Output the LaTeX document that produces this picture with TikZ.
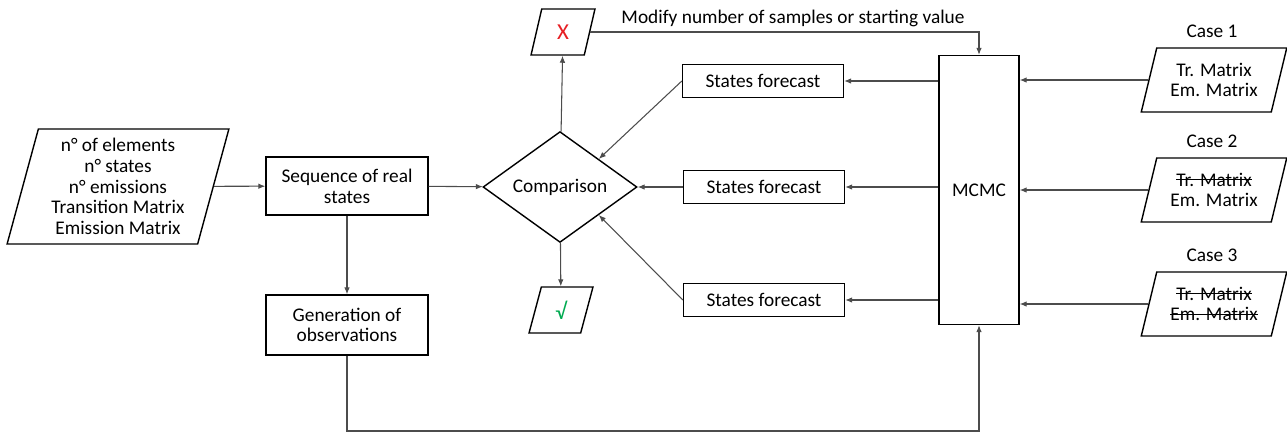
\documentclass[tikz,border=0pt]{standalone}
\usepackage{fontspec}
\setmainfont{Carlito}
\usetikzlibrary{shapes.geometric,arrows.meta}
\definecolor{xred}{RGB}{230,30,35}
\definecolor{okgreen}{RGB}{0,170,80}
\newsavebox\strkbox
\newcommand{\strk}[1]{\sbox\strkbox{#1}\rlap{\rule[0.3em]{\wd\strkbox}{0.55pt}}\usebox\strkbox}

\begin{document}
\begin{tikzpicture}[x=0.02cm,y=-0.02cm,
  every node/.style={font=\fontsize{11}{11.8}\selectfont},
  process/.style={draw,line width=0.8pt,align=center,inner sep=2pt},
  decision/.style={draw,line width=0.8pt,diamond,inner sep=0pt,
    minimum width=3.08cm,minimum height=1.76cm},
  io/.style={draw,line width=0.8pt,trapezium,trapezium stretches=true,
    align=center,inner sep=1pt},
  link/.style={draw=black!70,line width=0.6pt,-{Latex[length=4pt,width=3.2pt]}}
]
  \useasboundingbox (0,0) rectangle (1287,434);

  % data and process
  \node[io,trapezium left angle=75,trapezium right angle=105,
    minimum width=4.44cm,minimum height=2.3cm] (in) at (118,186.5)
    {n° of elements\\n° states\\n° emissions\\Transition Matrix\\Emission Matrix};
  \node[process,minimum width=3.24cm,minimum height=1.16cm] (seq) at (347,186)
    {Sequence of real\\states};
  \node[process,minimum width=3.24cm,minimum height=1.2cm] (gen) at (347,325)
    {Generation of\\observations};
  \node[decision] (cmp) at (560,187) {Comparison};
  \node[io,trapezium left angle=78,trapezium right angle=102,
    minimum width=1.28cm,minimum height=0.92cm] (xo) at (563,32)
    {\textcolor{xred}{\fontsize{13}{13}\selectfont X}};
  \node[io,trapezium left angle=78,trapezium right angle=102,
    minimum width=1.28cm,minimum height=0.92cm] (ok) at (561,310)
    {\textcolor{okgreen}{\fontsize{13}{13}\selectfont √}};
  \node (mod) at (793,18) {Modify number of samples or starting value};

  % forecasts and sampler
  \node[process,minimum width=3.22cm,minimum height=0.67cm] (sf1) at (763,81) {States forecast};
  \node[process,minimum width=3.22cm,minimum height=0.67cm] (sf2) at (764,187) {States forecast};
  \node[process,minimum width=3.22cm,minimum height=0.67cm] (sf3) at (764,300) {States forecast};
  \node[process,minimum width=1.6cm,minimum height=5.38cm] (mcmc) at (979,190) {MCMC};

  % the three cases
  \node (lc1) at (1212,31) {Case 1};
  \node (lc2) at (1212,141) {Case 2};
  \node (lc3) at (1212,255) {Case 3};
  \node[io,trapezium left angle=72,trapezium right angle=108,
    minimum width=2.92cm,minimum height=1.28cm] (c1) at (1214,80)
    {Tr. Matrix\\Em. Matrix};
  \node[io,trapezium left angle=72,trapezium right angle=108,
    minimum width=2.92cm,minimum height=1.28cm] (c2) at (1214,190)
    {\strk{Tr. Matrix}\\Em. Matrix};
  \node[io,trapezium left angle=72,trapezium right angle=108,
    minimum width=2.92cm,minimum height=1.28cm] (c3) at (1214,304)
    {\strk{Tr. Matrix}\\\strk{Em. Matrix}};

  \coordinate (low) at (347,431);

  \draw[link] (in) -- (seq);
  \draw[link] (seq) -- (cmp);
  \draw[link] (seq) -- (gen);
  \draw[link] (cmp) -- (xo);
  \draw[link] (cmp) -- (ok);
  \draw[link] (xo.east) -| (mcmc.north);
  \draw[link] (gen.south) -- (low) -| (mcmc.south);
  \draw[link] (sf1 -| mcmc.west) -- (sf1.east);
  \draw[link] (sf2 -| mcmc.west) -- (sf2.east);
  \draw[link] (sf3 -| mcmc.west) -- (sf3.east);
  \draw[link] (sf1.west) -- (cmp.north east);
  \draw[link] (sf2) -- (cmp);
  \draw[link] (sf3.west) -- (cmp.south east);
  \draw[link] (c1.west) -- (c1.west -| mcmc.east);
  \draw[link] (c2.west) -- (c2.west -| mcmc.east);
  \draw[link] (c3.west) -- (c3.west -| mcmc.east);
\end{tikzpicture}
\end{document}
